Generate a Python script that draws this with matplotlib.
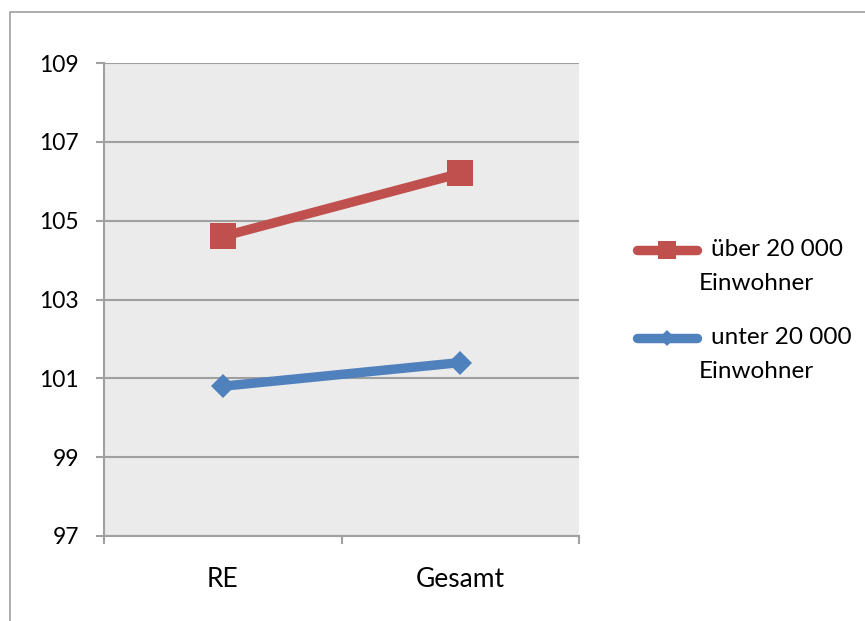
import matplotlib
matplotlib.use("Agg")
import matplotlib.pyplot as plt
from matplotlib.lines import Line2D
from matplotlib.patches import Rectangle

categories = ["RE", "Gesamt"]
series_labels = ["über 20 000\nEinwohner", "unter 20 000\nEinwohner"]
over_20000 = [104.6, 106.2]
under_20000 = [100.8, 101.4]
y_ticks = [97, 99, 101, 103, 105, 107, 109]

RED = "#C0504D"
BLUE = "#4F81BD"
GRID = "#A0A0A0"
FONT = ["Lato", "DejaVu Sans"]
FS_Y = 16.5
FS_X = 19
FS_LEG = 17.5

plt.rcParams["font.family"] = FONT

fig = plt.figure(figsize=(8.65, 6.21), dpi=100)
W, H = 865, 621

# outer chart frame
fig.patches.append(Rectangle((10 / W, -0.1), 1.2, 1 - 12 / H + 0.1,
                             transform=fig.transFigure, fill=False,
                             edgecolor=GRID, linewidth=1.2, zorder=0))

ax = fig.add_axes([104 / W, 1 - 536 / H, (579 - 104) / W, (536 - 63) / H])
ax.set_facecolor("#EBEBEB")

x = list(range(len(categories)))
ax.plot(x, over_20000, color=RED, linewidth=6.8, marker="s", markersize=18.5,
        markeredgewidth=0, solid_capstyle="butt", zorder=3)
ax.plot(x, under_20000, color=BLUE, linewidth=6.8, marker="D", markersize=12.5,
        markeredgewidth=0, solid_capstyle="butt", zorder=3)

ax.set_xlim(-0.5, len(categories) - 0.5)
ax.set_ylim(y_ticks[0], y_ticks[-1])
ax.set_yticks(y_ticks)
ax.set_yticklabels([str(v) for v in y_ticks])
ax.set_xticks(x)
ax.set_xticklabels(categories)
ax.set_xticks([-0.5, 0.5, 1.5], minor=True)

ax.grid(axis="y", color=GRID, linewidth=1.5, zorder=1)
ax.set_axisbelow(True)
for side in ("top", "right"):
    ax.spines[side].set_visible(False)
for side in ("left", "bottom"):
    ax.spines[side].set_color(GRID)
    ax.spines[side].set_linewidth(1.5)

ax.tick_params(axis="y", which="major", length=6, width=1.5, color=GRID,
               pad=12, labelsize=FS_Y)
ax.tick_params(axis="x", which="major", length=0, pad=22, labelsize=FS_X)
ax.tick_params(axis="x", which="minor", length=6, width=1.5, color=GRID)

# legend drawn at the right of the plot area
entries = [(RED, "s", 13, series_labels[0], 250),
           (BLUE, "D", 8, series_labels[1], 338)]
for color, mk, ms, label, yc in entries:
    yf = 1 - yc / H
    fig.add_artist(Line2D([637 / W, 697 / W], [yf, yf], transform=fig.transFigure,
                          color=color, linewidth=6.8, solid_capstyle="round"))
    fig.add_artist(Line2D([667 / W], [yf], transform=fig.transFigure,
                          color=color, marker=mk, markersize=ms,
                          markeredgewidth=0, linestyle="none"))
    first, second = label.split("\n")
    fig.text(711 / W, yf, first, fontsize=FS_LEG, va="center", ha="left")
    fig.text(699 / W, 1 - (yc + 33) / H, second, fontsize=FS_LEG, va="center",
             ha="left")

fig.savefig("out.png", dpi=100)
